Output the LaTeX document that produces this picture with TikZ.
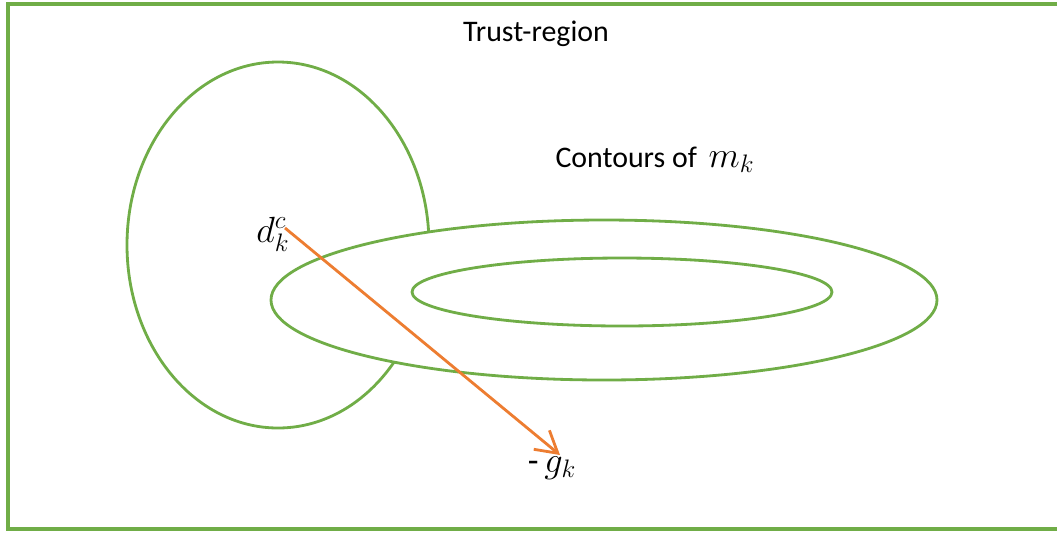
\documentclass[tikz,border=0pt]{standalone}
\usepackage{fontspec}
\setmainfont{Carlito}
\usetikzlibrary{arrows.meta}

\definecolor{offgreen}{RGB}{112,173,71}
\definecolor{offorange}{RGB}{237,125,49}

\begin{document}
\begin{tikzpicture}[x=0.02cm, y=-0.02cm, font=\fontsize{17}{20}\selectfont,
    contour/.style={draw=offgreen, line width=1.6pt},
    bigmath/.style={font=\fontsize{20}{24}\selectfont},
    step arrow/.style={draw=offorange, line width=1.6pt, -{Straight Barb[length=12pt, width=14pt, line width=1.6pt]}}]
  \useasboundingbox (0,0) rectangle (1057,532);
  \draw[offgreen, line width=1.8pt] (8,4) rectangle (1070,529);
  % trust region and the contours over it
  \draw[contour] (278,245) ellipse [x radius=151, y radius=183];
  \draw[contour, fill=white] (604,300) ellipse [x radius=333, y radius=80];
  \draw[contour] (622,292) ellipse [x radius=210, y radius=34];
  \node (title) at (536,34) {Trust-region};
  \node (contours) at (655,160) {Contours of \,{\fontsize{20}{24}\selectfont$m_k$}};
  \node[bigmath] (dkc) at (273,234) {$d_k^c$};
  \node[bigmath] (gk) at (552,468) {-\,$g_k$};
  \coordinate (tail) at (285,228);
  \coordinate (tip) at (560,455);
  \draw[step arrow] (tail) -- (tip);
\end{tikzpicture}
\end{document}
